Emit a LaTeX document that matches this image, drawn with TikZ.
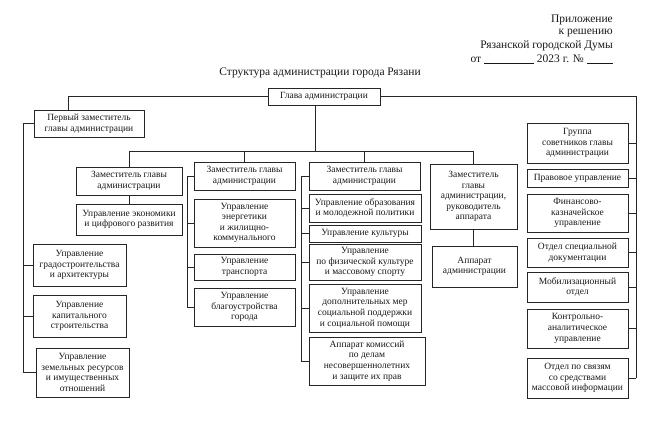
\documentclass[tikz,border=0pt]{standalone}
\usepackage{fontspec}
\setmainfont{Liberation Serif}
\tikzset{
  box/.style={draw=black!85, line width=1pt, fill=white, inner sep=1pt, align=center,
    font=\fontsize{9.5}{10.6}\selectfont, text=black!90},
  conn/.style={draw=black!85, line width=0.9pt},
  hdr/.style={font=\fontsize{11.5}{13}\selectfont, inner sep=0pt, text=black!90}
}
\newcommand\bx[6]{\node[box, minimum width={(#4-#2)*1pt}, minimum height={(#5-#3)*1pt}] (#1) at ({(#2+#4)/2},{(#3+#5)/2}) {#6};}
\begin{document}
\begin{tikzpicture}[x=1pt,y=-1pt]
\useasboundingbox[fill=white] (0,0) rectangle (650,428);
% header
\node[hdr,anchor=east] (h1) at (613,20) {Приложение};
\node[hdr,anchor=east] (h2) at (613,33) {к решению};
\node[hdr,anchor=east] (h3) at (613,46) {Рязанской городской Думы};
\node[hdr,anchor=east] (h4) at (613,59) {от \rule[-1.5pt]{50pt}{0.5pt} 2023 г. № \rule[-1.5pt]{26pt}{0.5pt}};
\node[hdr] (title) at (320,73) {Структура администрации города Рязани};
% boxes
\bx{glava}{268}{88}{380}{105}{Глава администрации}
\bx{perv}{34}{110}{144}{137}{Первый заместитель\\главы администрации}
\bx{d1}{76}{167}{182}{195}{Заместитель главы\\администрации}
\bx{econ}{76}{204}{182}{235}{Управление экономики\\и цифрового развития}
\bx{d2}{194}{162}{295}{190}{Заместитель главы\\администрации}
\bx{energy}{194}{199}{295}{247}{Управление\\энергетики\\и жилищно-\\коммунального}
\bx{transp}{194}{254}{295}{280}{Управление\\транспорта}
\bx{blago}{194}{288}{295}{326}{Управление\\благоустройства\\города}
\bx{d3}{309}{162}{420}{190}{Заместитель главы\\администрации}
\bx{educ}{309}{194}{421}{222}{Управление образования\\и молодежной политики}
\bx{cult}{309}{225}{421}{242}{Управление культуры}
\bx{sport}{309}{244}{421}{280}{Управление\\по физической культуре\\и массовому спорту}
\bx{social}{309}{284}{421}{332}{Управление\\дополнительных мер\\социальной поддержки\\и социальной помощи}
\bx{komiss}{309}{337}{425}{385}{Аппарат комиссий\\по делам\\несовершеннолетних\\и защите их прав}
\bx{d4}{430}{164}{517}{229}{Заместитель\\главы\\администрации,\\руководитель\\аппарата}
\bx{appar}{432}{246}{517}{287}{Аппарат\\администрации}
\bx{grad}{33}{244}{126}{286}{Управление\\градостроительства\\и архитектуры}
\bx{kapit}{33}{295}{126}{337}{Управление\\капитального\\строительства}
\bx{zemel}{36}{348}{129}{397}{Управление\\земельных ресурсов\\и имущественных\\отношений}
\bx{gruppa}{527}{123}{628}{163}{Группа\\советников главы\\администрации}
\bx{pravo}{527}{169}{628}{187}{Правовое управление}
\bx{finans}{527}{194}{628}{232}{Финансово-\\казначейское\\управление}
\bx{spec}{527}{238}{628}{267}{Отдел специальной\\документации}
\bx{mobil}{527}{272}{628}{302}{Мобилизационный\\отдел}
\bx{kontrol}{527}{309}{628}{348}{Контрольно-\\аналитическое\\управление}
\bx{smi}{527}{358}{628}{398}{Отдел по связям\\со средствами\\массовой информации}
% reference lines
\coordinate (x1) at (23,0);
\coordinate (x2) at (187,0);
\coordinate (x3) at (301,0);
\coordinate (rx) at (636,0);
\coordinate (by) at (0,151);
% connectors
\draw[conn] (glava.west) -| ([xshift=35pt]perv.north west);
\draw[conn] (glava.east) -- (glava.east -| rx) -- (smi.east -| rx);
\foreach \n in {gruppa,pravo,finans,spec,mobil,kontrol,smi}
  \draw[conn] (\n.east) -- (\n.east -| rx);
\draw[conn] ([xshift=-9pt]glava.south) -- ([xshift=-9pt]glava.south |- by);
\draw[conn] (d1.north |- by) -- (d4.north |- by);
\foreach \n in {d1,d2,d3,d4}
  \draw[conn] (\n.north |- by) -- (\n.north);
\draw[conn] (d1.south) -- (econ.north);
\draw[conn] (d4.south) -- (d4.south |- appar.north);
\draw[conn] (perv.west) -- (perv.west -| x1) -- (zemel.west -| x1) -- (zemel.west);
\foreach \n in {grad,kapit}
  \draw[conn] (\n.west) -- (\n.west -| x1);
\draw[conn] (d2.west) -- (d2.west -| x2) -- (blago.west -| x2) -- (blago.west);
\foreach \n in {energy,transp}
  \draw[conn] (\n.west) -- (\n.west -| x2);
\draw[conn] (d3.west) -- (d3.west -| x3) -- (komiss.west -| x3) -- (komiss.west);
\foreach \n in {educ,cult,sport,social}
  \draw[conn] (\n.west) -- (\n.west -| x3);
\end{tikzpicture}
\end{document}
